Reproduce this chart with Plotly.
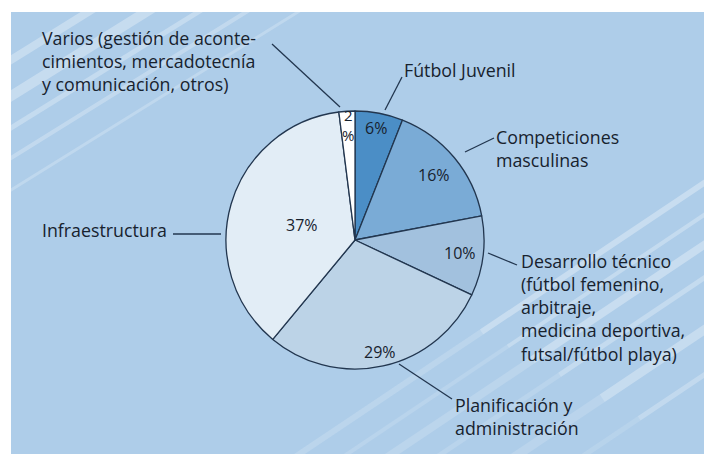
import math
import plotly.graph_objects as go

# ---------------- data ----------------
categories = [
    "Fútbol Juvenil",
    "Competiciones masculinas",
    "Desarrollo técnico",
    "Planificación y administración",
    "Infraestructura",
    "Varios",
]
values = [6, 16, 10, 29, 37, 2]
pct_labels = ["6%", "16%", "10%", "29%", "37%", "2<br>%"]
label_lines = [
    ["Fútbol Juvenil"],
    ["Competiciones", "masculinas"],
    ["Desarrollo técnico", "(fútbol femenino,", "arbitraje,", "medicina deportiva,", "futsal/fútbol playa)"],
    ["Planificación y", "administración"],
    ["Infraestructura"],
    ["Varios (gestión de aconte-", "cimientos, mercadotecnía", "y comunicación, otros)"],
]

# ---------------- style / layout ----------------
W, H = 704, 454
slice_colors = ["#4b8ec6", "#7aabd6", "#a2c1de", "#bcd3e7", "#e2edf6", "#ffffff"]
bg_color = "#aecde9"
edge_color = "#22364f"
text_color = "#17222e"
font_family = "Open Sans, Noto Sans, DejaVu Sans, sans-serif"
pct_family = "Liberation Sans Narrow, Open Sans, sans-serif"
label_size = 17.8

cx, cy, R = 355, 240, 129           # pie centre / radius in px
pct_radius = [0.88, 0.79, 0.82, 0.89, 0.43, 0.89]  # label radius as fraction of R
# text block anchor (left x, centre y of first line) in px
label_pos = [(402, 70), (494, 137), (519, 261), (453, 405), (40, 230), (40, 38)]
# leader lines (px)
leaders = [
    ((385, 110), (402, 77)),
    ((465, 152), (494, 138)),
    ((488, 253), (517, 265)),
    ((399, 364), (452, 399)),
    ((173, 234), (221, 234)),
    ((340, 107), (272, 44)),
]


def px(x):
    return x / W


def py(y):
    return 1 - y / H


fig = go.Figure()
fig.add_trace(go.Pie(
    labels=categories,
    values=values,
    sort=False,
    direction="clockwise",
    rotation=0,
    marker=dict(colors=slice_colors, line=dict(color=edge_color, width=1.3)),
    textinfo="none",
    hoverinfo="label+percent",
    showlegend=False,
    domain=dict(x=[px(cx - R), px(cx + R)], y=[py(cy + R), py(cy - R)]),
))

shapes = []
# background panel
shapes.append(dict(type="rect", xref="paper", yref="paper", x0=px(11), x1=1.01,
                   y0=-0.01, y1=py(12), fillcolor=bg_color, line=dict(width=0), layer="below"))

# decorative stripes top-left: (left-edge y, top-edge x, width, opacity)
tl = [(60, 88, 8, 0.30), (96, 146, 10, 0.30), (128, 198, 5, 0.28), (158, 246, 4, 0.25), (190, 298, 3, 0.22)]
for yl, xt, w, op in tl:
    shapes.append(dict(type="line", xref="paper", yref="paper", x0=px(5), y0=py(yl + 0.62 * 6),
                       x1=px(xt + 10), y1=py(12 - 0.62 * 10),
                       line=dict(color=f"rgba(255,255,255,{op})", width=w), layer="below"))
# white margin cover so stripes don't spill
shapes.append(dict(type="rect", xref="paper", yref="paper", x0=-0.01, x1=px(11), y0=-0.01, y1=1.01,
                   fillcolor="white", line=dict(width=0), layer="below"))
shapes.append(dict(type="rect", xref="paper", yref="paper", x0=-0.01, x1=1.01, y0=py(12), y1=1.01,
                   fillcolor="white", line=dict(width=0), layer="below"))

# decorative stripes bottom-right: (right-edge y, width, opacity)
br = [(183, 6, 0.32), (215, 4, 0.28), (245, 8, 0.32), (278, 5, 0.28), (330, 9, 0.30), (375, 5, 0.25)]
slope = 0.67
for yr, w, op in br:
    x_full = 704 - (454 - yr) / slope
    xm = 704 - (704 - x_full) * 0.55
    ym = yr + (704 - xm) * slope
    shapes.append(dict(type="line", xref="paper", yref="paper", x0=px(712), y0=py(yr - 8 * slope),
                       x1=px(xm), y1=py(ym),
                       line=dict(color=f"rgba(255,255,255,{op})", width=w), layer="below"))
    shapes.append(dict(type="line", xref="paper", yref="paper", x0=px(xm), y0=py(ym),
                       x1=px(x_full - 6), y1=py(454 + 6 * slope),
                       line=dict(color=f"rgba(255,255,255,{op*0.5:.2f})", width=w), layer="below"))

# leader lines
for (a, b) in leaders:
    shapes.append(dict(type="line", xref="paper", yref="paper", x0=px(a[0]), y0=py(a[1]),
                       x1=px(b[0]), y1=py(b[1]), line=dict(color=edge_color, width=1.3)))

annotations = []
# percentage labels at slice mid-angles
total = sum(values)
cum = 0
for v, lab, rf in zip(values, pct_labels, pct_radius):
    mid = (cum + v / 2) / total * 2 * math.pi
    cum += v
    x = cx + rf * R * math.sin(mid)
    y = cy - rf * R * math.cos(mid)
    annotations.append(dict(xref="paper", yref="paper", x=px(x), y=py(y), text=lab, showarrow=False,
                            xanchor="center", yanchor="middle",
                            font=dict(family=pct_family, size=16 if "<br>" not in lab else 15,
                                      color=text_color)))

# category labels (multi-line blocks)
gap = 1.3 * label_size
for lines, (lx, ly) in zip(label_lines, label_pos):
    ymid = ly + (len(lines) - 1) * gap / 2
    annotations.append(dict(xref="paper", yref="paper", x=px(lx), y=py(ymid), text="<br>".join(lines),
                            showarrow=False, xanchor="left", yanchor="middle", align="left",
                            font=dict(family=font_family, size=label_size, color=text_color)))

fig.update_layout(
    width=W, height=H,
    margin=dict(l=0, r=0, t=0, b=0),
    paper_bgcolor="white",
    plot_bgcolor="white",
    shapes=shapes,
    annotations=annotations,
)

fig.write_html(
    "out.html",
    config={"displayModeBar": False},
    post_script="document.body.style.margin='0px';document.body.style.overflow='hidden';",
)
